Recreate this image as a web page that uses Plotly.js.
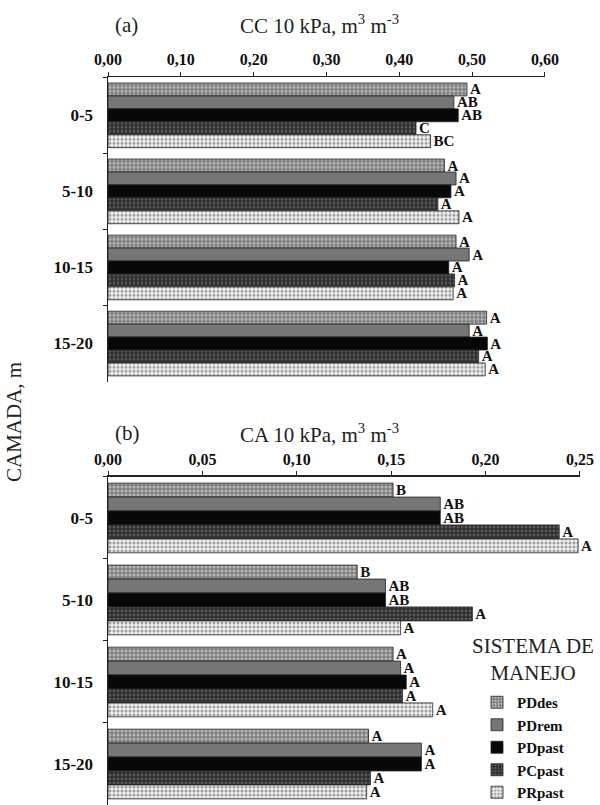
<!DOCTYPE html>
<html>
<head>
<meta charset="utf-8">
<script src="https://cdn.plot.ly/plotly-3.0.1.min.js"></script>
<style>html,body{margin:0;padding:0;background:#fff;}#chart{width:600px;height:805px;}</style>
</head>
<body>
<div id="chart"></div>
<script>
// ---- data ----
const categories = ['0-5', '5-10', '10-15', '15-20'];
const systems = ['PDdes', 'PDrem', 'PDpast', 'PCpast', 'PRpast'];

// (a) CC 10 kPa, m3 m-3
const cc_PDdes  = [0.493, 0.462, 0.478, 0.520];
const cc_PDrem  = [0.475, 0.478, 0.496, 0.496];
const cc_PDpast = [0.481, 0.471, 0.468, 0.521];
const cc_PCpast = [0.423, 0.453, 0.476, 0.509];
const cc_PRpast = [0.443, 0.482, 0.474, 0.518];
const cc_lab_PDdes  = ['A', 'A', 'A', 'A'];
const cc_lab_PDrem  = ['AB', 'A', 'A', 'A'];
const cc_lab_PDpast = ['AB', 'A', 'A', 'A'];
const cc_lab_PCpast = ['C', 'A', 'A', 'A'];
const cc_lab_PRpast = ['BC', 'A', 'A', 'A'];

// (b) CA 10 kPa, m3 m-3
const ca_PDdes  = [0.151, 0.132, 0.151, 0.138];
const ca_PDrem  = [0.176, 0.147, 0.155, 0.166];
const ca_PDpast = [0.176, 0.147, 0.158, 0.166];
const ca_PCpast = [0.239, 0.193, 0.156, 0.139];
const ca_PRpast = [0.249, 0.155, 0.172, 0.137];
const ca_lab_PDdes  = ['B', 'B', 'A', 'A'];
const ca_lab_PDrem  = ['AB', 'AB', 'A', 'A'];
const ca_lab_PDpast = ['AB', 'AB', 'A', 'A'];
const ca_lab_PCpast = ['A', 'A', 'A', 'A'];
const ca_lab_PRpast = ['A', 'A', 'A', 'A'];

const xTicksCC = [0, 0.1, 0.2, 0.3, 0.4, 0.5, 0.6];
const xTicksCA = [0, 0.05, 0.1, 0.15, 0.2, 0.25];

// ---- styles ----
const SERIF = 'Liberation Serif, Times New Roman, serif';
const styles = {
  PDdes:  {color: '#858585', pattern: {shape: '.', bgcolor: '#7e7e7e', fgcolor: '#b8b8b8', size: 4, solidity: 0.45}},
  PDrem:  {color: '#767676'},
  PDpast: {color: '#080808'},
  PCpast: {color: '#353535', pattern: {shape: '.', bgcolor: '#2c2c2c', fgcolor: '#5a5a5a', size: 4, solidity: 0.4}},
  PRpast: {color: '#dcdcdc', pattern: {shape: '.', bgcolor: '#f0f0f0', fgcolor: '#9c9c9c', size: 4, solidity: 0.45}}
};

const ccVals = {PDdes: cc_PDdes, PDrem: cc_PDrem, PDpast: cc_PDpast, PCpast: cc_PCpast, PRpast: cc_PRpast};
const ccLabs = {PDdes: cc_lab_PDdes, PDrem: cc_lab_PDrem, PDpast: cc_lab_PDpast, PCpast: cc_lab_PCpast, PRpast: cc_lab_PRpast};
const caVals = {PDdes: ca_PDdes, PDrem: ca_PDrem, PDpast: ca_PDpast, PCpast: ca_PCpast, PRpast: ca_PRpast};
const caLabs = {PDdes: ca_lab_PDdes, PDrem: ca_lab_PDrem, PDpast: ca_lab_PDpast, PCpast: ca_lab_PCpast, PRpast: ca_lab_PRpast};

function barTrace(name, vals, labs, xa, ya, showLegend) {
  const st = styles[name];
  const marker = {color: st.color, line: {color: '#222', width: 0.8}};
  if (st.pattern) marker.pattern = st.pattern;
  return {
    type: 'bar', orientation: 'h', name: name,
    x: vals, y: categories, text: labs,
    textposition: 'outside', constraintext: 'none', cliponaxis: false,
    textfont: {family: SERIF, size: 15, weight: 'bold', color: '#111'},
    marker: marker,
    xaxis: xa, yaxis: ya, showlegend: showLegend,
    hoverinfo: 'skip'
  };
}

const data = [];
systems.forEach(s => data.push(barTrace(s, ccVals[s], ccLabs[s], 'x', 'y', false)));
systems.forEach(s => data.push(barTrace(s, caVals[s], caLabs[s], 'x2', 'y2', true)));

const tickFont = {family: SERIF, size: 16, weight: 'bold', color: '#111'};
const catFont = {family: SERIF, size: 17, weight: 'bold', color: '#111'};
const titleFont = {family: SERIF, size: 21, weight: 'normal', color: '#222'};

function xAxis(anchor, domain, range, tv) {
  return {
    anchor: anchor, domain: domain, range: range, side: 'top',
    tickvals: tv, tickformat: '.2f', tickfont: tickFont,
    showline: true, linecolor: '#222', linewidth: 1.5,
    ticks: 'outside', ticklen: 4, tickcolor: '#222',
    showgrid: false, zeroline: false, fixedrange: true, automargin: false
  };
}
function yAxis(anchor, domain) {
  return {
    anchor: anchor, domain: domain, type: 'category',
    autorange: 'reversed', tickfont: catFont,
    showline: true, linecolor: '#222', linewidth: 1.5,
    ticks: 'outside', ticklen: 4, tickcolor: '#222', tickson: 'boundaries',
    ticklabelstandoff: 10,
    showgrid: false, zeroline: false, fixedrange: true, automargin: false
  };
}

const layout = {
  width: 600, height: 805,
  margin: {l: 108, r: 0, t: 0, b: 0, autoexpand: false},
  paper_bgcolor: '#fff', plot_bgcolor: 'rgba(0,0,0,0)',
  separators: ',.',
  barmode: 'group', bargap: 0.15, bargroupgap: 0,
  showlegend: true,
  xaxis: xAxis('y', [0, 0.888], [0, 0.6], xTicksCC),
  yaxis: yAxis('x', [0.526, 0.904]),
  xaxis2: xAxis('y2', [0, 0.9593], [0, 0.25], xTicksCA),
  yaxis2: yAxis('x2', [0, 0.4075]),
  legend: {
    x: 0.75, xanchor: 'left', y: 1 - 686/805, yanchor: 'top',
    bgcolor: 'rgba(0,0,0,0)', borderwidth: 0,
    font: {family: SERIF, size: 15, weight: 'bold', color: '#111'},
    itemwidth: 30, tracegroupgap: 0
  },
  annotations: [
    {text: '(a)', xref: 'paper', yref: 'paper', x: (113-108)/492, y: 1 - 25/805, xanchor: 'left', yanchor: 'middle', showarrow: false, font: titleFont},
    {text: 'CC 10 kPa, m<sup>3</sup> m<sup>-3</sup>', xref: 'paper', yref: 'paper', x: (319-108)/492, y: 1 - 25/805, xanchor: 'center', yanchor: 'middle', showarrow: false, font: titleFont},
    {text: '(b)', xref: 'paper', yref: 'paper', x: (113-108)/492, y: 1 - 433/805, xanchor: 'left', yanchor: 'middle', showarrow: false, font: titleFont},
    {text: 'CA 10 kPa, m<sup>3</sup> m<sup>-3</sup>', xref: 'paper', yref: 'paper', x: (319-108)/492, y: 1 - 433/805, xanchor: 'center', yanchor: 'middle', showarrow: false, font: titleFont},
    {text: 'CAMADA, m', xref: 'paper', yref: 'paper', x: (14-108)/492, y: 1 - 422/805, xanchor: 'center', yanchor: 'middle', textangle: -90, showarrow: false, font: titleFont},
    {text: 'SISTEMA DE<br>MANEJO', xref: 'paper', yref: 'paper', x: (533-108)/492, y: 1 - 659/805, xanchor: 'center', yanchor: 'middle', align: 'center', showarrow: false, font: {family: SERIF, size: 21, weight: 'normal', color: '#222'}}
  ]
};

Plotly.newPlot('chart', data, layout, {staticPlot: true, displayModeBar: false});
</script>
</body>
</html>
